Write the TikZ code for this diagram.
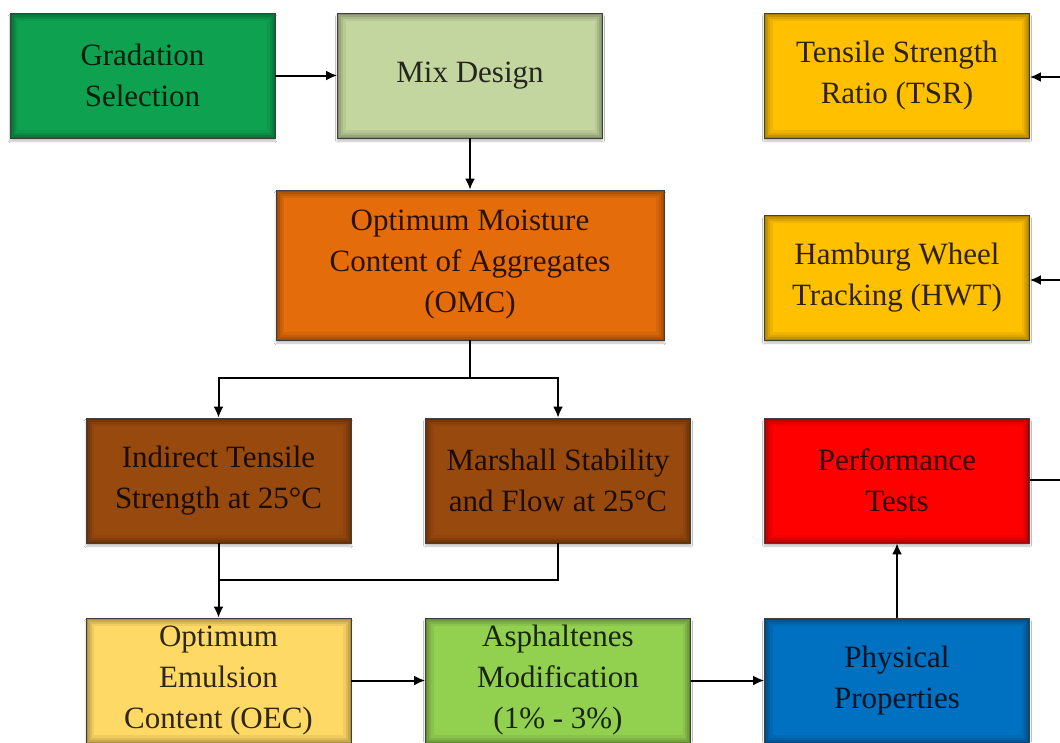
\documentclass[tikz,border=0pt]{standalone}
\usepackage{fontspec}
\setmainfont{Liberation Serif}
\usetikzlibrary{arrows.meta,shadows.blur}
\definecolor{cGrad}{RGB}{14,162,80}
\definecolor{cMix}{RGB}{196,214,160}
\definecolor{cOmc}{RGB}{228,108,10}
\definecolor{cBrown}{RGB}{152,74,14}
\definecolor{cOec}{RGB}{255,217,102}
\definecolor{cAsp}{RGB}{146,208,80}
\definecolor{cPhys}{RGB}{0,112,192}
\definecolor{cPerf}{RGB}{255,0,0}
\definecolor{cGold}{RGB}{255,192,0}
\tikzset{
  box/.style={draw=black!75, line width=0.8pt, minimum width=265pt, minimum height=125pt,
    inner sep=0pt, align=center, font=\fontsize{31}{41}\selectfont,
    blur shadow={shadow xshift=0pt, shadow yshift=-3pt, shadow blur steps=6, shadow opacity=25},
    path picture={
      \foreach \w/\o in {16/0.06,11/0.08,7/0.1,3/0.14}{
        \draw[black,opacity=\o,line width=\w pt] (path picture bounding box.south west) rectangle (path picture bounding box.north east);
      }
    }},
  tbox/.style={box, fill=#1, text=black!82!#1},
  arr/.style={line width=2pt, -{Latex[length=11pt,width=10pt]}},
  ln/.style={line width=2pt},
}
\begin{document}
\begin{tikzpicture}[x=1pt,y=-1pt]
\useasboundingbox (0,0) rectangle (1060,742);
\clip (0,0) rectangle (1060,742);
\fill[white] (0,0) rectangle (1060,742);
\node[tbox=cGrad] (grad) at (142.5,75.5) {Gradation\\Selection};
\node[tbox=cMix] (mix) at (470,75.5) {Mix Design};
\node[tbox=cGold] (tsr) at (897,75.5) {Tensile Strength\\Ratio (TSR)};
\node[tbox=cOmc, minimum width=388pt, minimum height=150pt] (omc) at (470,265) {Optimum Moisture\\Content of Aggregates\\(OMC)};
\node[tbox=cGold] (hwt) at (897,277.5) {Hamburg Wheel\\Tracking (HWT)};
\node[tbox=cBrown] (its) at (218.5,480.5) {Indirect Tensile\\Strength at 25°C};
\node[tbox=cBrown] (mar) at (558,480.5) {Marshall Stability\\and Flow at 25°C};
\node[tbox=cPerf] (perf) at (897,480.5) {Performance\\Tests};
\node[tbox=cOec] (oec) at (218.5,680.5) {Optimum\\Emulsion\\Content (OEC)};
\node[tbox=cAsp] (asp) at (558,680.5) {Asphaltenes\\Modification\\(1\% - 3\%)};
\node[tbox=cPhys] (phys) at (897,680.5) {Physical\\Properties};
\coordinate (j1) at (470,378);
\coordinate (j2) at (218.5,580);
\coordinate (e1) at (1065,77);
\coordinate (e2) at (1065,280);
\coordinate (e3) at (1065,480);
\draw[arr] (grad) -- (mix);
\draw[arr] (mix) -- (omc);
\draw[ln] (omc.south) -- (j1);
\draw[arr] (j1) -| (its.north);
\draw[arr] (j1) -| (mar.north);
\draw[ln] (its.south) -- (j2);
\draw[ln] (mar.south) |- (j2);
\draw[arr] (j2) -- (oec.north);
\draw[arr] (oec) -- (asp);
\draw[arr] (asp) -- (phys);
\draw[arr] (phys) -- (perf);
\draw[arr] (e1) -- (tsr.east |- e1);
\draw[arr] (e2) -- (hwt.east |- e2);
\draw[ln] (perf.east |- e3) -- (e3);
\end{tikzpicture}
\end{document}
